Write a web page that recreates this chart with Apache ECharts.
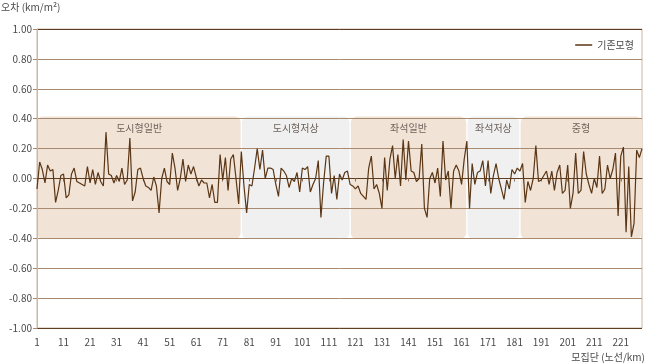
<!DOCTYPE html>
<html>
<head>
<meta charset="utf-8">
<script src="https://cdn.jsdelivr.net/npm/echarts@6/dist/echarts.min.js"></script>
<style>
html,body{margin:0;padding:0;background:#ffffff;}
#chart{width:651px;height:364px;}
</style>
</head>
<body>
<div id="chart"></div>
<script>
// Route numbers along the x axis (1 … 229)
const routeCount = 229;
const routes = [];
for (let i = 1; i <= routeCount; i++) routes.push(String(i));

// Error of the existing model per route (km/m²)
const errBase = [
  -0.07, 0.11, 0.06, -0.03, 0.09, 0.05, 0.06, -0.16, -0.08, 0.02,
   0.03, -0.13, -0.11, 0.03, 0.07, -0.02, -0.03, -0.04, -0.05, 0.08,
  -0.03, 0.06, -0.04, 0.04, -0.02, -0.05, 0.31, 0.03, 0.02, -0.03,
   0.02, -0.02, 0.07, -0.04, -0.01, 0.27, -0.15, -0.09, 0.06, 0.07,
   0.00, -0.05, -0.06, -0.08, 0.01, -0.05, -0.23, 0.00, 0.07, -0.02,
  -0.04, 0.17, 0.07, -0.08, 0.00, 0.13, -0.02, 0.09, 0.03, 0.08,
   0.01, -0.05, -0.01, -0.03, -0.03, -0.13, -0.04, -0.16, -0.16, 0.16,
  -0.01, 0.14, -0.08, 0.13, 0.16, 0.00, -0.17, 0.18, -0.05, -0.23,
  -0.04, -0.05, 0.07, 0.20, 0.06, 0.19, 0.00, 0.07, 0.07, 0.06,
  -0.04, -0.12, 0.07, 0.05, 0.02, -0.06, 0.00, -0.02, 0.04, -0.09,
   0.07, 0.06, 0.08, -0.09, -0.04, 0.00, 0.12, -0.26, -0.03, 0.15,
   0.15, -0.10, 0.02, -0.14, 0.03, -0.01, 0.04, 0.05, -0.04, -0.05,
  -0.07, -0.05, -0.10, -0.12, -0.14, 0.07, 0.15, -0.07, -0.04, -0.10,
  -0.20, 0.14, -0.08, 0.13, 0.22, 0.00, 0.16, -0.05, 0.26, -0.01,
   0.25, 0.05, 0.04, -0.02, 0.00, 0.23, -0.20, -0.26, 0.00, 0.04,
  -0.03, 0.07, -0.12, 0.25, -0.01, 0.05, -0.20, 0.05, 0.09, 0.05,
  -0.04, 0.13, 0.25, -0.20, 0.10, -0.04, 0.04, 0.05, 0.12, -0.05,
   0.12, -0.10, 0.02, 0.10, 0.00, -0.07, -0.14, -0.01, -0.07, 0.06,
   0.03, 0.07, 0.05, 0.10, -0.16, -0.02, -0.08, 0.00, 0.22, -0.02,
  -0.01, 0.02, 0.05, -0.04, 0.05, -0.08, 0.04, 0.09, -0.10, -0.08,
   0.09, -0.20, -0.10, 0.17, -0.10, -0.08, 0.18, 0.03, -0.04, -0.10,
   0.00, -0.06, 0.15, -0.10, -0.07, 0.09, 0.00, 0.06, 0.17, -0.25,
   0.15, 0.21, -0.36, 0.08, -0.39, -0.30, 0.19, 0.14, 0.20
];

// Route groups (bus types) with their route-number ranges
const groupNames = ['도시형일반', '도시형저상', '좌석일반', '좌석저상', '중형'];
const groupFrom  = [1, 78, 119, 163, 183];
const groupTo    = [78, 119, 163, 183, 229];

// Y axis ticks
const yMin = -1, yMax = 1, yStep = 0.2;

const BOX_TOP = 0.415, BOX_BOTTOM = -0.405, LABEL_Y = 0.335;
const boxFills = ['#f2e3d7', '#f0f0f0'];
const FONT = '"Noto Sans CJK KR", "Noto Sans", sans-serif';

const chart = echarts.init(document.getElementById('chart'), null, {renderer: 'canvas'});

const gridColors = [];
const nLines = Math.round((yMax - yMin) / yStep) + 1;
for (let k = 0; k < nLines; k++) {
  gridColors.push(k === 0 || k === nLines - 1 ? '#5e3d20' : '#a88a70');
}

chart.setOption({
  animation: false,
  backgroundColor: '#ffffff',
  grid: {
    left: 37, right: 9, top: 29, bottom: 36,
    show: true, borderColor: '#c9b7a7', borderWidth: 1
  },
  legend: {
    data: ['기존모형'],
    right: 12, top: 35,
    icon: 'rect', itemWidth: 17, itemHeight: 1.5, itemGap: 4,
    textStyle: {fontFamily: FONT, fontSize: 10, color: '#4a4a4a'}
  },
  xAxis: [{
    type: 'category',
    data: routes,
    boundaryGap: false,
    axisLine: {show: true, lineStyle: {color: '#5e3d20', width: 1}},
    axisTick: {show: true, interval: 9, length: 3, lineStyle: {color: '#8c7360'}},
    axisLabel: {interval: 9, margin: 9, fontFamily: FONT, fontSize: 10, color: '#4a4a4a'},
    splitLine: {show: false},
    z: 3
  }, {
    type: 'value',
    min: 1, max: routeCount,
    show: false
  }],
  yAxis: {
    type: 'value',
    min: yMin, max: yMax, interval: yStep,
    axisLine: {show: true, lineStyle: {color: '#c9b7a7'}},
    axisTick: {show: true, length: 4, lineStyle: {color: '#a88a70'}},
    axisLabel: {
      margin: 5, fontFamily: FONT, fontSize: 10, color: '#4a4a4a',
      formatter: v => v.toFixed(2)
    },
    splitLine: {show: true, lineStyle: {color: gridColors, width: 1}},
    z: 3
  },
  graphic: [
    {type: 'text', left: 1, top: 2,
     style: {text: '오차 (km/m²)', font: '10px ' + FONT, fill: '#4a4a4a'}},
    {type: 'text', right: 6, bottom: 2,
     style: {text: '모집단 (노선/km)', font: '10px ' + FONT, fill: '#4a4a4a'}}
  ],
  series: [{
    type: 'custom',
    name: 'groups',
    xAxisIndex: 1,
    z: 1,
    silent: true,
    data: groupNames.map((n, k) => [groupFrom[k], groupTo[k], k]),
    renderItem: function (params, api) {
      const k = api.value(2);
      const gap = 0.25;
      const a = api.value(0) === 1 ? 1 : api.value(0) + gap;
      const b = api.value(1) === routeCount ? routeCount : api.value(1) - gap;
      const pTop = api.coord([a, BOX_TOP]);
      const pBot = api.coord([b, BOX_BOTTOM]);
      const pLab = api.coord([(api.value(0) + api.value(1)) / 2, LABEL_Y]);
      return {
        type: 'group',
        children: [{
          type: 'rect',
          shape: {x: pTop[0], y: pTop[1], width: pBot[0] - pTop[0], height: pBot[1] - pTop[1], r: 6},
          style: {fill: boxFills[k % 2]}
        }, {
          type: 'text',
          style: {
            text: groupNames[k], x: pLab[0], y: pLab[1],
            align: 'center', verticalAlign: 'middle',
            font: '10px ' + FONT, fill: '#6e625a'
          }
        }]
      };
    }
  }, {
    type: 'line',
    name: '기존모형',
    data: errBase,
    symbol: 'none',
    z: 5,
    lineStyle: {color: '#5a3614', width: 1.2},
    itemStyle: {color: '#5a3614'}
  }]
});
</script>
</body>
</html>
